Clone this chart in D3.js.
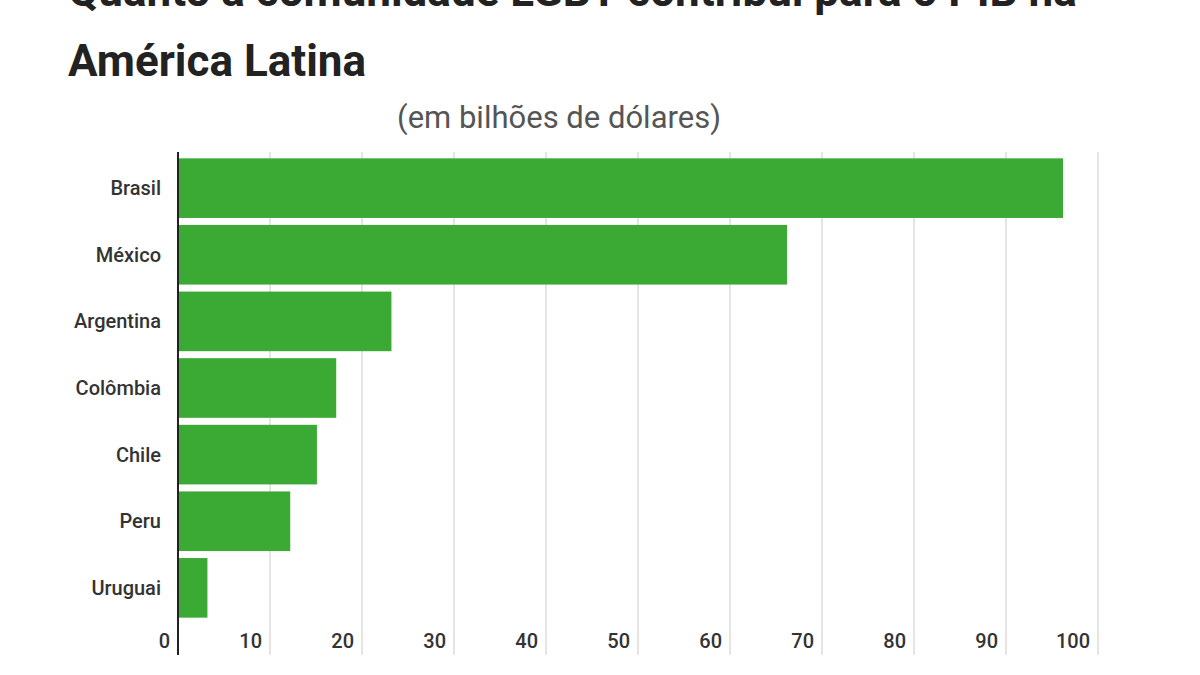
<!DOCTYPE html><html><head><meta charset="utf-8"><script src="https://cdn.jsdelivr.net/npm/d3@7"></script>
<style>body{margin:0;background:#fff}text{font-family:Roboto,sans-serif}</style></head><body>
<svg id="c" width="1200" height="675"></svg>
<script>
const categories=["Brasil","México","Argentina","Colômbia","Chile","Peru","Uruguai"];
const values=[96.2,66.2,23.2,17.2,15.1,12.2,3.2];
const ticks=[0,10,20,30,40,50,60,70,80,90,100];
const svg=d3.select("#c");
const x=d3.scaleLinear().domain([0,100]).range([178,1098]);
const y=d3.scaleBand().domain(categories).range([155,621]).paddingInner(0.105).paddingOuter(0.05);
svg.append("text").attr("x",68).attr("y",6).attr("font-size",44).attr("font-weight",700).attr("fill","#222").text("Quanto a comunidade LGBT contribui para o PIB na");
svg.append("text").attr("x",68).attr("y",76).attr("font-size",44).attr("font-weight",700).attr("fill","#222").text("América Latina");
svg.append("text").attr("x",559).attr("y",128).attr("text-anchor","middle").attr("font-size",31).attr("fill","#555").text("(em bilhões de dólares)");
svg.selectAll(".g").data(ticks.slice(1)).join("line").attr("x1",d=>x(d)).attr("x2",d=>x(d)).attr("y1",152).attr("y2",655).attr("stroke","#ddd").attr("stroke-width",1.5);
svg.selectAll(".b").data(values).join("rect").attr("x",x(0)).attr("y",(d,i)=>y(categories[i])).attr("width",d=>x(d)-x(0)).attr("height",y.bandwidth()).attr("fill","#3aaa35");
svg.append("line").attr("x1",x(0)).attr("x2",x(0)).attr("y1",152).attr("y2",655).attr("stroke","#222").attr("stroke-width",2);
svg.selectAll(".t").data(ticks).join("text").attr("x",d=>x(d)-8).attr("y",648).attr("text-anchor","end").attr("font-size",20).attr("font-weight",500).attr("fill","#333").text(d=>d);
svg.selectAll(".c").data(categories).join("text").attr("x",161).attr("y",d=>y(d)+y.bandwidth()/2+7).attr("text-anchor","end").attr("font-size",20).attr("font-weight",500).attr("fill","#333").text(d=>d);
</script></body></html>
